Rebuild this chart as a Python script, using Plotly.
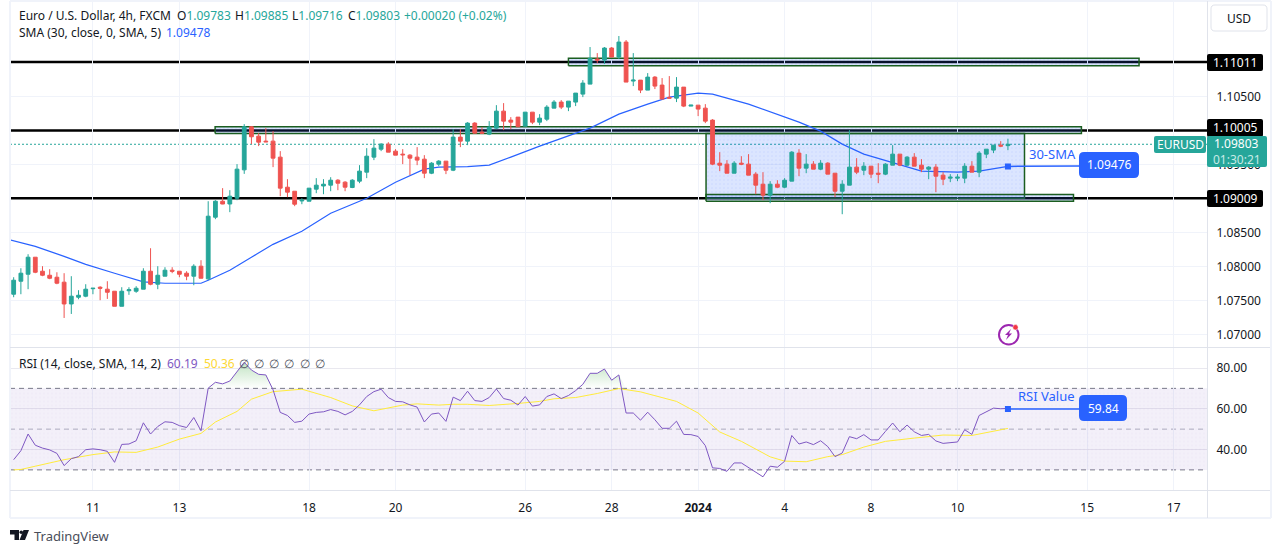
import numpy as np
import plotly.graph_objects as go

W, H = 1275, 553

opens = [1.07599,1.07790,1.07893,1.08143,1.07937,1.07878,1.07849,1.07776,1.07456,1.07555,
         1.07570,1.07680,1.07702,1.07673,1.07643,1.07422,1.07650,1.07643,1.07673,1.07937,
         1.07746,1.07864,1.07952,1.07937,1.07908,1.07864,1.08011,1.07825,1.08731,1.08966,
         1.08925,1.09010,1.09427,1.10060,1.09922,1.09849,1.09849,1.09614,1.09172,1.09113,
         1.08970,1.08966,1.09143,1.09190,1.09202,1.09275,1.09246,1.09168,1.09261,1.09393,
         1.09614,1.09731,1.09805,1.09702,1.09658,1.09643,1.09614,1.09584,1.09378,1.09511,
         1.09555,1.09422,1.09908,1.09849,1.10114,1.09981,1.09952,1.10040,1.10290,1.10158,
         1.10202,1.10069,1.10275,1.10128,1.10172,1.10334,1.10423,1.10349,1.10423,1.10540,
         1.10687,1.11055,1.11040,1.11217,1.11085,1.11305,1.10732,1.10746,1.10599,1.10790,
         1.10673,1.10492,1.10481,1.10643,1.10364,1.10378,1.10334,1.10158,1.09525,1.09511,
         1.09378,1.09525,1.09511,1.09364,1.09216,1.09055,1.09216,1.09172,1.09261,1.09673,
         1.09452,1.09511,1.09437,1.09525,1.09378,1.09113,1.09202,1.09467,1.09422,1.09481,
         1.09378,1.09364,1.09496,1.09658,1.09496,1.09614,1.09496,1.09437,1.09467,1.09349,
         1.09305,1.09305,1.09305,1.09481,1.09393,1.09658,1.09717,1.09790,1.09783]
highs = [1.07849,1.07981,1.08187,1.08143,1.08011,1.07967,1.07922,1.07908,1.07864,1.07658,
         1.07746,1.07687,1.07717,1.07790,1.07643,1.07702,1.07702,1.07717,1.07981,1.08275,
         1.08011,1.07996,1.07996,1.07937,1.07937,1.08040,1.08099,1.08966,1.08981,1.09158,
         1.09128,1.09511,1.10099,1.10069,1.09966,1.10040,1.09996,1.09702,1.09290,1.09113,
         1.09010,1.09158,1.09305,1.09290,1.09319,1.09290,1.09261,1.09290,1.09496,1.09746,
         1.09878,1.09820,1.09834,1.09731,1.09731,1.09658,1.09761,1.09643,1.09540,1.09570,
         1.09555,1.10025,1.10025,1.10128,1.10128,1.10055,1.10143,1.10378,1.10408,1.10202,
         1.10202,1.10275,1.10275,1.10246,1.10378,1.10452,1.10452,1.10437,1.10555,1.10746,
         1.11232,1.11143,1.11232,1.11232,1.11394,1.11335,1.11143,1.10746,1.10849,1.10805,
         1.10776,1.10805,1.10790,1.10643,1.10378,1.10378,1.10393,1.10172,1.09687,1.09570,
         1.09555,1.09628,1.09658,1.09393,1.09393,1.09261,1.09275,1.09305,1.09702,1.09731,
         1.09658,1.09555,1.09570,1.09540,1.09378,1.09275,1.10011,1.09599,1.09540,1.09481,
         1.09525,1.09525,1.09790,1.09658,1.09628,1.09673,1.09584,1.09481,1.09511,1.09393,
         1.09364,1.09364,1.09525,1.09555,1.09702,1.09731,1.09790,1.09849,1.09885]
lows = [1.07555,1.07599,1.07673,1.07908,1.07864,1.07820,1.07746,1.07250,1.07309,1.07525,
        1.07555,1.07599,1.07511,1.07530,1.07422,1.07422,1.07590,1.07620,1.07673,1.07731,
        1.07673,1.07864,1.07908,1.07849,1.07805,1.07731,1.07834,1.07805,1.08702,1.08922,
        1.08805,1.08981,1.09368,1.09805,1.09776,1.09834,1.09467,1.09040,1.09025,1.08893,
        1.08922,1.08966,1.09084,1.09069,1.09113,1.09128,1.09113,1.09158,1.09231,1.09305,
        1.09570,1.09702,1.09687,1.09643,1.09511,1.09349,1.09496,1.09305,1.09364,1.09481,
        1.09364,1.09408,1.09761,1.09790,1.09966,1.09966,1.09937,1.10025,1.10011,1.10025,
        1.10055,1.10069,1.10099,1.10084,1.10143,1.10334,1.10320,1.10290,1.10364,1.10496,
        1.10687,1.10996,1.10982,1.11085,1.11055,1.10717,1.10658,1.10555,1.10599,1.10614,
        1.10467,1.10477,1.10423,1.10349,1.10364,1.10217,1.10114,1.09496,1.09408,1.09378,
        1.09378,1.09496,1.09349,1.09069,1.08981,1.08937,1.09158,1.09158,1.09261,1.09334,
        1.09378,1.09437,1.09422,1.09364,1.09025,1.08775,1.09202,1.09364,1.09349,1.09305,
        1.09231,1.09349,1.09496,1.09481,1.09481,1.09481,1.09393,1.09290,1.09099,1.09202,
        1.09246,1.09261,1.09231,1.09393,1.09319,1.09599,1.09673,1.09761,1.09716]
closes = [1.07805,1.07908,1.08143,1.07922,1.07878,1.07834,1.07761,1.07456,1.07570,1.07584,
          1.07673,1.07687,1.07687,1.07628,1.07422,1.07643,1.07665,1.07687,1.07937,1.07746,
          1.07878,1.07952,1.07937,1.07893,1.07864,1.08011,1.07834,1.08746,1.08966,1.08925,
          1.09040,1.09437,1.10060,1.09913,1.09834,1.09839,1.09599,1.09158,1.09099,1.08922,
          1.08981,1.09158,1.09202,1.09216,1.09275,1.09231,1.09172,1.09275,1.09408,1.09628,
          1.09746,1.09805,1.09687,1.09643,1.09648,1.09599,1.09570,1.09378,1.09525,1.09555,
          1.09422,1.09908,1.09849,1.10114,1.09966,1.09966,1.10055,1.10290,1.10143,1.10128,
          1.10060,1.10275,1.10128,1.10187,1.10349,1.10423,1.10349,1.10437,1.10555,1.10702,
          1.11066,1.11040,1.11217,1.11085,1.11305,1.10717,1.10746,1.10599,1.10790,1.10658,
          1.10467,1.10481,1.10643,1.10364,1.10378,1.10320,1.10143,1.09511,1.09496,1.09378,
          1.09525,1.09511,1.09349,1.09202,1.09055,1.09216,1.09172,1.09275,1.09687,1.09452,
          1.09511,1.09437,1.09525,1.09364,1.09113,1.09216,1.09467,1.09393,1.09481,1.09364,
          1.09364,1.09511,1.09658,1.09496,1.09614,1.09481,1.09437,1.09467,1.09334,1.09290,
          1.09319,1.09319,1.09481,1.09393,1.09673,1.09731,1.09790,1.09776,1.09803]

sma_bars = [-1,3,7,10,14,16,18,21,26,27,30,33,36,40,44,49,53,57,59,63,66,69,73,80,84,88,91,95,97,102,109,112,115,118,123,126,131,134,138]
sma_vals = [1.08413,1.08302,1.08155,1.08037,1.07908,1.07849,1.07781,1.07760,1.07760,1.07805,1.07952,1.08143,
            1.08332,1.08524,1.08789,1.09010,1.09246,1.09437,1.09467,1.09474,1.09496,1.09614,1.09776,1.10040,
            1.10246,1.10393,1.10496,1.10555,1.10540,1.10393,1.10128,1.09996,1.09805,1.09658,1.09496,1.09408,
            1.09393,1.09408,1.09478]

rsi = [35.0,39.4,47.6,42.1,40.7,39.8,38.1,32.1,35.5,36.5,39.9,40.3,39.9,39.1,33.7,42.5,42.7,44.3,53.1,47.6,
       51.3,53.6,53.3,51.7,50.8,55.7,49.2,70.1,73.0,72.2,73.6,78.0,82.8,79.0,76.9,76.6,69.3,58.2,56.7,53.3,
       53.9,57.4,58.2,58.5,59.6,58.7,57.0,58.7,61.9,66.0,68.4,69.6,65.5,63.6,63.4,61.9,60.8,53.5,57.4,57.9,
       53.8,65.7,64.0,68.6,64.0,63.6,65.5,69.7,65.0,64.2,61.8,66.0,61.3,61.9,66.0,67.3,65.0,66.5,68.9,72.0,
       77.4,77.4,79.5,74.0,76.6,57.9,57.9,54.4,58.3,54.6,50.4,50.4,53.9,47.4,47.3,46.4,41.9,31.0,30.7,29.3,
       33.4,33.4,31.0,28.9,26.6,31.8,31.3,34.2,46.9,42.7,43.7,42.4,44.3,41.4,36.5,38.3,46.3,45.3,47.3,44.7,
       44.7,48.9,53.0,48.7,52.0,48.7,46.9,47.4,44.2,43.0,43.4,43.7,49.7,47.4,56.7,58.3,60.3,60.0,60.19]
rsi_ma_bars = [0,1,3,5,7,11,14,17,20,23,26,28,31,33,36,40,44,47,50,54,56,59,61,63,66,70,73,75,78,81,84,87,92,95,98,101,105,107,110,113,115,118,121,125,129,133,138]
rsi_ma_vals = [30.0,30.2,31.8,33.5,35.0,37.5,38.8,38.6,41.2,45.1,47.9,53.5,58.7,64.7,68.4,69.6,65.5,61.4,59.0,61.8,62.4,
               61.8,62.2,62.2,61.6,62.6,63.6,64.9,65.5,67.5,69.9,68.3,63.6,57.9,48.6,44.0,36.4,34.3,34.0,36.5,37.5,
               41.2,44.0,45.6,47.1,46.9,50.36]

price_ticks = [1.07, 1.075, 1.08, 1.085, 1.095, 1.105]
price_labels = ['1.07000', '1.07500', '1.08000', '1.08500', '1.09500', '1.10500']
rsi_ticks = [40, 60, 80]
rsi_labels = ['40.00', '60.00', '80.00']
date_bars = [11, 23, 41, 53, 71, 83, 95, 107, 119, 131, 149, 161]
date_labels = ['11', '13', '18', '20', '26', '28', '<b>2024</b>', '4', '8', '10', '15', '17']

levels = [1.11011, 1.10005, 1.09009]
# zones: bar from, bar to, price low, price high
zones = [(77.0, 156.2, 1.10957, 1.11066),
         (27.96, 148.2, 1.09962, 1.10059),
         (96.1, 140.3, 1.09010, 1.09962),
         (96.1, 147.1, 1.08966, 1.09064)]

GREEN = '#26a69a'
RED = '#ef5350'
BLUE = '#2962ff'
PURPLE = '#7e57c2'
YELLOW = '#ffeb3b'
TEXT = '#131722'
FONT = 'Noto Sans'
bars = list(range(len(closes)))
xrange = [-0.51, 165.7]


def fx(x):
    return x / W


def fy(y):
    return 1 - y / H


def rounded(x0, y0, x1, y1, r):
    p = [(x0 + r, y0), (x1 - r, y0), (x1, y0), (x1, y0 + r), (x1, y1 - r), (x1, y1), (x1 - r, y1), (x0 + r, y1), (x0, y1), (x0, y1 - r), (x0, y0 + r), (x0, y0), (x0 + r, y0)]
    p = [f'{fx(a):.5f},{fy(b):.5f}' for a, b in p]
    return f'M{p[0]} L{p[1]} Q{p[2]} {p[3]} L{p[4]} Q{p[5]} {p[6]} L{p[7]} Q{p[8]} {p[9]} L{p[10]} Q{p[11]} {p[12]} Z'


def poly(pts):
    return 'M' + ' L'.join(f'{fx(a):.5f},{fy(b):.5f}' for a, b in pts) + ' Z'


fig = go.Figure()
for x0, x1, y0, y1 in zones:
    fig.add_trace(go.Scatter(x=[x0, x1, x1, x0, x0], y=[y0, y0, y1, y1, y0], mode='lines', fill='toself',
                             fillcolor='rgba(41,98,255,0.18)', line=dict(color='#1b5e20', width=1.5),
                             fillpattern=dict(shape='.', size=4, solidity=0.12, fgcolor='rgba(41,98,255,0.22)', bgcolor='rgba(41,98,255,0.17)'),
                             xaxis='x', yaxis='y'))
fig.add_trace(go.Scatter(x=sma_bars, y=sma_vals, mode='lines', line=dict(color=BLUE, width=1.2), xaxis='x', yaxis='y'))
fig.add_trace(go.Candlestick(x=bars, open=opens, high=highs, low=lows, close=closes, xaxis='x', yaxis='y3',
                             increasing=dict(line=dict(color=GREEN, width=1), fillcolor=GREEN),
                             decreasing=dict(line=dict(color=RED, width=1), fillcolor=RED),
                             whiskerwidth=0))
fig.add_trace(go.Scatter(x=[138, 148], y=[sma_vals[-1], 1.09484], mode='lines', line=dict(color=BLUE, width=1.5), xaxis='x', yaxis='y3'))
fig.add_trace(go.Scatter(x=[138], y=[sma_vals[-1]], mode='markers', marker=dict(color=BLUE, size=6, symbol='square'), xaxis='x', yaxis='y3'))

# rsi band with the dotted fill
fig.add_trace(go.Scatter(x=[xrange[0], xrange[1], xrange[1], xrange[0], xrange[0]], y=[30, 30, 70, 70, 30], mode='lines', fill='toself', line=dict(width=0),
                         fillpattern=dict(shape='.', size=4, solidity=0.12, fgcolor='rgba(126,87,194,0.16)', bgcolor='rgba(126,87,194,0.09)'),
                         xaxis='x2', yaxis='y2'))
# overbought fill in the rsi pane
fig.add_trace(go.Scatter(x=bars, y=[70] * len(bars), mode='lines', line=dict(width=0), xaxis='x2', yaxis='y2'))
fig.add_trace(go.Scatter(x=bars, y=np.maximum(rsi, 70), mode='lines', line=dict(width=0), fill='tonexty', xaxis='x2', yaxis='y2',
                         fillgradient=dict(type='vertical', start=83, stop=70,
                                           colorscale=[[0, 'rgba(76,175,80,0.35)'], [1, 'rgba(76,175,80,0)']])))
fig.add_trace(go.Scatter(x=rsi_ma_bars, y=rsi_ma_vals, mode='lines', line=dict(color=YELLOW, width=1), xaxis='x2', yaxis='y2'))
fig.add_trace(go.Scatter(x=bars, y=rsi, mode='lines', line=dict(color=PURPLE, width=1), xaxis='x2', yaxis='y2'))
fig.add_trace(go.Scatter(x=[138, 148], y=[59.84, 59.9], mode='lines', line=dict(color=BLUE, width=1.5), xaxis='x2', yaxis='y2'))
fig.add_trace(go.Scatter(x=[138], y=[59.84], mode='markers', marker=dict(color=BLUE, size=6, symbol='square'), xaxis='x2', yaxis='y2'))

shapes = []
for v, c in [(70, '#787b86'), (50, '#b2b5be'), (30, '#787b86')]:
    shapes.append(dict(type='line', xref='x2 domain', yref='y2', x0=0, x1=1, y0=v, y1=v, line=dict(color=c, width=1, dash='5px,4px'), layer='below'))
# last price line
shapes.append(dict(type='line', xref='x domain', yref='y', x0=0, x1=1, y0=closes[-1], y1=closes[-1], line=dict(color=GREEN, width=1, dash='2px,2px'), layer='below'))
for lv in levels:
    shapes.append(dict(type='line', xref='x domain', yref='y', x0=0, x1=1, y0=lv, y1=lv, line=dict(color='black', width=2.5), layer='below'))

# frame and pane separators
for a, b, c, d, col, w in [(10, 1, 1271, 1, '#f0f3fa', 2), (10, 518, 1271, 518, '#f0f3fa', 2), (10, 1, 10, 518, '#f0f3fa', 2),
                           (1271, 1, 1271, 518, '#f0f3fa', 2), (10, 347.5, 1270, 347.5, '#e0e3eb', 1),
                           (10, 490.5, 1270, 490.5, '#e0e3eb', 1), (1207.5, 1, 1207.5, 518, '#e0e3eb', 1)]:
    shapes.append(dict(type='line', xref='paper', yref='paper', x0=fx(a), x1=fx(c), y0=fy(b), y1=fy(d), line=dict(color=col, width=w), layer='above'))

# label boxes
shapes.append(dict(type='path', xref='paper', yref='paper', path=rounded(1211, 5, 1267, 31, 4), line=dict(color='#e0e3eb', width=1), fillcolor='white', layer='above'))
shapes.append(dict(type='path', xref='paper', yref='paper', path=rounded(1079, 152, 1139, 178, 5), line_width=0, fillcolor=BLUE, layer='above'))
shapes.append(dict(type='path', xref='paper', yref='paper', path=rounded(1079, 395, 1127, 421, 5), line_width=0, fillcolor=BLUE, layer='above'))
shapes.append(dict(type='path', xref='paper', yref='paper', path=rounded(1207, 54, 1263, 71, 2), line_width=0, fillcolor='black', layer='above'))
shapes.append(dict(type='path', xref='paper', yref='paper', path=rounded(1207, 119, 1263, 137, 2), line_width=0, fillcolor='black', layer='above'))
shapes.append(dict(type='path', xref='paper', yref='paper', path=rounded(1207, 190, 1263, 207, 2), line_width=0, fillcolor='black', layer='above'))
shapes.append(dict(type='path', xref='paper', yref='paper', path=rounded(1154, 136, 1206, 153, 2), line_width=0, fillcolor=GREEN, layer='above'))
shapes.append(dict(type='path', xref='paper', yref='paper', path=rounded(1207, 136, 1267, 167, 2), line_width=0, fillcolor=GREEN, layer='above'))

# bolt badge
shapes.append(dict(type='circle', xref='paper', yref='paper', x0=fx(999), x1=fx(1018.5), y0=fy(344.5), y1=fy(325), line=dict(color='#9c27b0', width=2), fillcolor='white', layer='above'))
shapes.append(dict(type='path', xref='paper', yref='paper', path=poly([(1011, 329), (1005, 335), (1008, 335), (1006, 340), (1012, 333.5), (1009, 333.5)]), line_width=0, fillcolor='#9c27b0', layer='above'))
shapes.append(dict(type='circle', xref='paper', yref='paper', x0=fx(1012.8), x1=fx(1018.2), y0=fy(330), y1=fy(324.6), line=dict(color='white', width=0.5), fillcolor='#f23645', layer='above'))

# TradingView logo
shapes.append(dict(type='path', xref='paper', yref='paper', path=poly([(10, 530), (19, 530), (19, 540), (14.5, 540), (14.5, 534.5), (10, 534.5)]), line_width=0, fillcolor=TEXT, layer='above'))
shapes.append(dict(type='circle', xref='paper', yref='paper', x0=fx(19.5), x1=fx(23), y0=fy(534), y1=fy(530.5), line_width=0, fillcolor=TEXT, layer='above'))
shapes.append(dict(type='path', xref='paper', yref='paper', path=poly([(23.5, 530), (29, 530), (25, 540), (19.5, 540)]), line_width=0, fillcolor=TEXT, layer='above'))

annotations = []


def label(x, y, text, color=TEXT, size=12, anchor='left'):
    annotations.append(dict(xref='paper', yref='paper', x=fx(x), y=fy(y), text=text, showarrow=False, xanchor=anchor, yanchor='middle',
                            font=dict(family=FONT, size=size, color=color), borderpad=0))


label(18, 16, 'Euro / U.S. Dollar, 4h, FXCM')
for x, head, val in [(176, 'O', '1.09783'), (234, 'H', '1.09885'), (291, 'L', '1.09716'), (347, 'C', '1.09803')]:
    label(x, 16, f'{head}<span style="color:{GREEN}">{val}</span>')
label(403, 16, '+0.00020 (+0.02%)', GREEN)
label(18, 32.5, 'SMA (30, close, 0, SMA, 5)')
label(165, 32.5, '1.09478', BLUE)
label(18, 363, 'RSI (14, close, SMA, 14, 2)')
label(166, 363, '60.19', PURPLE)
label(203, 363, '50.36', '#fdd835')
for x in [238, 253, 268, 283, 299, 314]:
    label(x, 363, '∅', '#50535e')

label(1239, 18.5, 'USD', anchor='center')
label(1235, 62.5, '1.11011', 'white', anchor='center')
label(1235, 128, '1.10005', 'white', anchor='center')
label(1235, 198.5, '1.09009', 'white', anchor='center')
label(1180, 144.5, 'EURUSD', 'white', anchor='center')
label(1236.5, 144, '1.09803', 'white', anchor='center')
label(1237, 159, '01:30:21', '#c8ebe6', anchor='center')
label(1052, 154, '30-SMA', BLUE, size=13, anchor='center')
label(1109, 165, '1.09476', 'white', anchor='center')
label(1046, 396, 'RSI Value', BLUE, size=13, anchor='center')
label(1103, 408, '59.84', 'white', anchor='center')
label(33, 535.5, 'TradingView', '#4a4e5a', size=13)

grid = '#f0f3fa'
fig.update_layout(
    width=W, height=H, margin=dict(l=0, r=0, t=0, b=0), autosize=False,
    paper_bgcolor='white', plot_bgcolor='white', showlegend=False, boxgap=0.25,
    font=dict(family=FONT, size=12, color=TEXT),
    xaxis=dict(domain=[fx(10), fx(1207.5)], range=xrange, anchor='y', tickvals=date_bars, showticklabels=False,
               showgrid=True, gridcolor=grid, zeroline=False, rangeslider=dict(visible=False)),
    yaxis=dict(domain=[fy(347.5), fy(2)], range=[1.06816, 1.11894], anchor='x', side='right', tickvals=price_ticks, ticktext=price_labels,
               showgrid=True, gridcolor=grid, zeroline=False, ticklabelstandoff=8, tickfont=dict(size=12, color=TEXT)),
    yaxis3=dict(range=[1.06816, 1.11894], overlaying='y', anchor='x', side='right', visible=False),
    xaxis2=dict(domain=[fx(10), fx(1207.5)], range=xrange, anchor='y2', tickvals=date_bars, ticktext=date_labels,
                showgrid=True, gridcolor=grid, zeroline=False, ticklabelstandoff=8, tickfont=dict(size=12, color=TEXT)),
    yaxis2=dict(domain=[fy(490.5), fy(347.5)], range=[19.88, 90.06], anchor='x2', side='right', tickvals=rsi_ticks, ticktext=rsi_labels,
                showgrid=True, gridcolor='#e9e8ef', zeroline=False, ticklabelstandoff=8, tickfont=dict(size=12, color=TEXT)),
    shapes=shapes, annotations=annotations,
)

fig.write_html("out.html", config=dict(displayModeBar=False), post_script="document.body.style.margin='0';")
